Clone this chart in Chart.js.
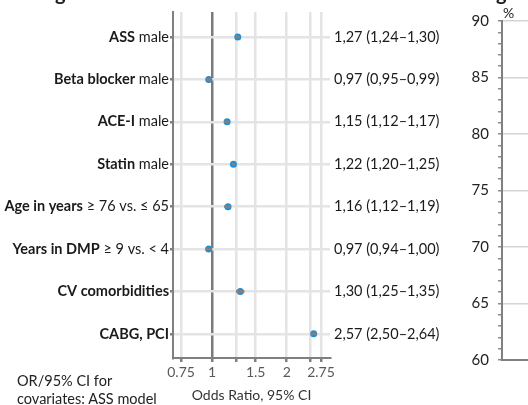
<!DOCTYPE html>
<html>
<head>
<meta charset="utf-8">
<script src="https://cdn.jsdelivr.net/npm/chart.js@4.4.1/dist/chart.umd.min.js"></script>
<style>
    body { margin: 0; background: #fff; }
    #wrap { position: relative; width: 528px; height: 405px; overflow: hidden; font-family: Lato, sans-serif; color: #222; }
    canvas { position: absolute; top: 0; }
    .txt { position: absolute; white-space: nowrap; }
</style>
</head>
<body>
<div id="wrap">
    <canvas id="forest" width="528" height="405" style="left:0"></canvas>
    <canvas id="pct" width="88" height="405" style="left:440px"></canvas>
    <div class="txt" style="left:55px; top:-20px; font-size:20px; font-weight:bold;">g</div>
    <div class="txt" style="left:496px; top:-20px; font-size:20px; font-weight:bold;">g</div>
    <div class="txt" style="left:503px; top:4px; font-size:14px;">%</div>
    <div class="txt" style="left:17px; top:372px; font-size:14.5px; line-height:18px;">OR/95% CI for<br>covariates: ASS model</div>
</div>
<script>
    // Forest plot rows (bold part + rest of the label)
    const rowBold = ['ASS', 'Beta blocker', 'ACE-I', 'Statin', 'Age in years', 'Years in DMP', 'CV comorbidities', 'CABG, PCI'];
    const rowRest = [' male', ' male', ' male', ' male', ' \u2265 76 vs. \u2264 65', ' \u2265 9 vs. < 4', '', ''];
    const oddsRatio = [1.27, 0.97, 1.15, 1.22, 1.16, 0.97, 1.30, 2.57];
    const ciLow = [1.24, 0.95, 1.12, 1.20, 1.12, 0.94, 1.25, 2.50];
    const ciHigh = [1.30, 0.99, 1.17, 1.25, 1.19, 1.00, 1.35, 2.64];

    const xTickValues = [0.75, 1, 1.25, 1.5, 2, 2.5, 2.75];
    const xTickLabels = ['0.75', '1', '', '1.5', '2', '', '2.75'];

    // right panel (only its axis is visible)
    const pctMin = 60;
    const pctMax = 90;

    const FONT = 'Lato, sans-serif';
    Chart.defaults.font.family = FONT;

    function fmt(v) {
        return v.toFixed(2).replace('.', ',');
    }

    // Texte des lignes : libellés à gauche, OR (IC) à droite
    const rowTextPlugin = {
        id: 'rowText',
        afterDraw(chart) {
            const ctx = chart.ctx;
            const ys = chart.scales.y;
            ctx.save();
            ctx.textBaseline = 'middle';
            ctx.fillStyle = '#1a1a1a';
            rowBold.forEach(function(b, i) {
                const py = ys.getPixelForValue(i);
                ctx.font = '14.5px ' + FONT;
                const restW = ctx.measureText(rowRest[i]).width;
                ctx.textAlign = 'right';
                ctx.fillText(rowRest[i], 169, py);
                ctx.font = 'bold 14.5px ' + FONT;
                ctx.fillText(b, 169 - restW, py);
                ctx.font = '14.5px ' + FONT;
                ctx.textAlign = 'left';
                ctx.fillText(fmt(oddsRatio[i]) + ' (' + fmt(ciLow[i]) + '\u2013' + fmt(ciHigh[i]) + ')', 334, py);
            });
            ctx.restore();
        }
    };

    const ciSets = oddsRatio.map(function(v, i) {
        return {
            data: [{ x: ciLow[i], y: i }, { x: ciHigh[i], y: i }],
            showLine: true,
            borderColor: '#808080',
            borderWidth: 3,
            pointRadius: 0,
            order: 1
        };
    });

    new Chart(document.getElementById('forest'), {
        type: 'scatter',
        data: {
            datasets: ciSets.concat([{
                data: oddsRatio.map(function(v, i) { return { x: v, y: i }; }),
                backgroundColor: '#1b8fdc',
                borderWidth: 0,
                pointRadius: 3.5,
                order: 2
            }])
        },
        options: {
            responsive: false,
            animation: false,
            layout: { padding: { left: 0, right: 198, top: 12, bottom: 0 } },
            plugins: { legend: { display: false }, tooltip: { enabled: false } },
            scales: {
                x: {
                    type: 'logarithmic',
                    min: 0.696,
                    max: 2.99,
                    afterBuildTicks: function(s) { s.ticks = xTickValues.map(function(v) { return { value: v }; }); },
                    afterFit: function(s) { s.height = 47; },
                    ticks: {
                        autoSkip: false,
                        maxRotation: 0,
                        padding: 2,
                        color: '#595959',
                        font: { size: 14 },
                        callback: function(v, i) { return xTickLabels[i]; }
                    },
                    grid: {
                        color: function(c) { return c.tick && c.tick.value === 1 ? '#7a7a7a' : '#e4e4e4'; },
                        lineWidth: 2.5,
                        tickLength: 4,
                        tickColor: '#7f7f7f'
                    },
                    border: { color: '#808080', width: 2 },
                    title: {
                        display: true,
                        text: 'Odds Ratio, 95% CI',
                        color: '#333',
                        font: { size: 14 },
                        padding: { top: 2, bottom: 1 }
                    }
                },
                y: {
                    type: 'linear',
                    reverse: true,
                    min: -0.59,
                    max: 7.57,
                    afterBuildTicks: function(s) { s.ticks = rowBold.map(function(b, i) { return { value: i }; }); },
                    afterFit: function(s) { s.width = 173; },
                    ticks: { callback: function() { return ''; } },
                    grid: { color: '#e4e4e4', lineWidth: 2.5, tickLength: 3, tickColor: '#7f7f7f' },
                    border: { color: '#808080', width: 2 }
                }
            }
        },
        plugins: [rowTextPlugin]
    });

    new Chart(document.getElementById('pct'), {
        type: 'scatter',
        data: { datasets: [{ data: [] }] },
        options: {
            responsive: false,
            animation: false,
            layout: { padding: { left: 0, right: 0, top: 21, bottom: 0 } },
            plugins: { legend: { display: false }, tooltip: { enabled: false } },
            scales: {
                x: {
                    min: 0,
                    max: 1,
                    afterFit: function(s) { s.height = 45; },
                    ticks: { display: false },
                    grid: { display: false },
                    border: { color: '#808080', width: 2 }
                },
                y: {
                    min: pctMin,
                    max: pctMax,
                    afterBuildTicks: function(s) {
                        const t = [];
                        for (let v = pctMin; v <= pctMax; v++) t.push({ value: v });
                        s.ticks = t;
                    },
                    afterFit: function(s) { s.width = 62; },
                    ticks: {
                        autoSkip: false,
                        padding: 9,
                        color: '#222',
                        font: { size: 15 },
                        callback: function(v) { return v % 5 === 0 ? String(v) : ''; }
                    },
                    grid: {
                        color: function(c) { return c.tick && c.tick.value % 5 === 0 ? '#d4d4d4' : 'rgba(0,0,0,0)'; },
                        lineWidth: 1.5,
                        tickLength: 4,
                        tickColor: '#8c8c8c'
                    },
                    border: { color: '#808080', width: 2 }
                }
            }
        }
    });
</script>
</body>
</html>
